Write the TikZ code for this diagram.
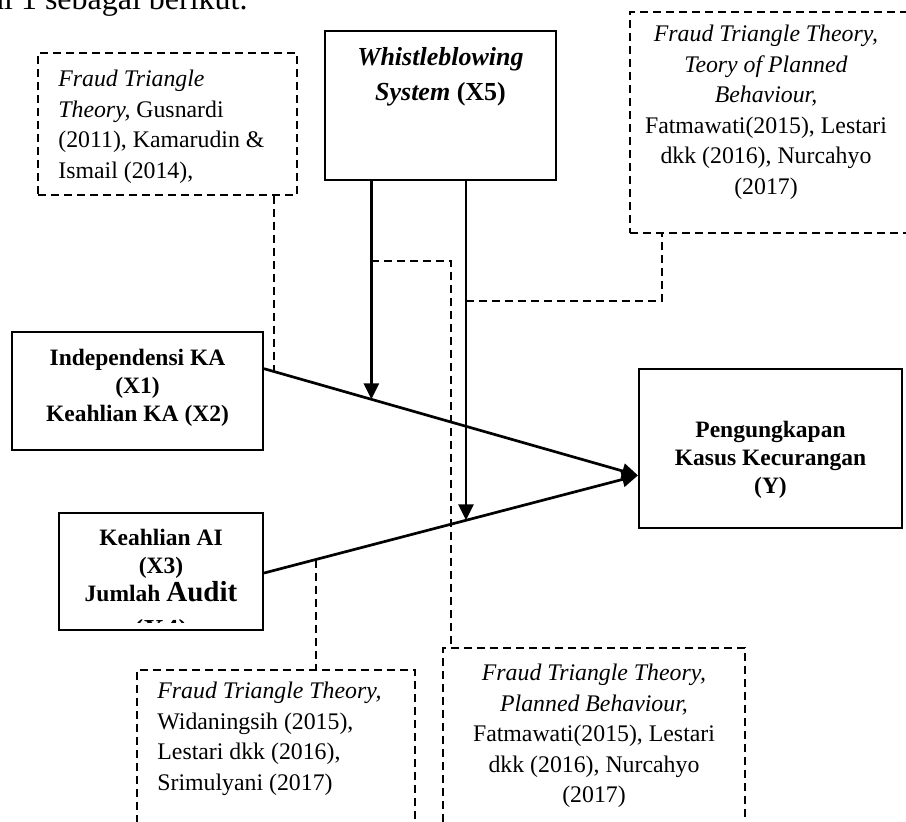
\documentclass[tikz,border=0pt]{standalone}
\usepackage{fontspec}
\setmainfont{Liberation Serif}
\usetikzlibrary{arrows.meta,calc}

\tikzset{
  varbox/.style={draw, line width=1pt, inner sep=0pt},
  refbox/.style={draw, line width=1pt, dash pattern=on 4pt off 2.5pt, inner sep=0pt},
  vartext/.style={inner sep=0pt, align=center, font=\fontsize{11.75}{14}\selectfont\bfseries},
  reftext/.style={inner sep=0pt, font=\fontsize{11.9}{15.25}\selectfont},
  flow/.style={line width=1.35pt, -{Triangle[length=8pt,width=7.5pt]}},
  refline/.style={line width=1pt, dash pattern=on 4pt off 2.5pt},
}

\begin{document}
\begin{tikzpicture}[x=0.5pt, y=-0.5pt]
    \useasboundingbox (0,0) rectangle (906,822);
    \clip (0,0) rectangle (906,822);

    % Texto del documento (cortado arriba)
    \node[anchor=base east, inner sep=0pt, font=\fontsize{16}{19}\selectfont] (caption) at (248,10) {al 1 sebagai berikut.};

    % Cajas de variables
    \node[varbox, minimum width=115.5pt, minimum height=74.5pt] (x5) at (440.5,105.5) {};
    \node[varbox, minimum width=125.5pt, minimum height=59pt] (x12) at (137.5,391) {};
    \node[varbox, minimum width=102pt, minimum height=58.5pt] (x34) at (161,571.5) {};
    \node[varbox, minimum width=131.5pt, minimum height=79.5pt] (y) at (770.5,448.5) {};

    \node[vartext, anchor=north, font=\fontsize{13}{17.5}\selectfont\bfseries] (x5t) at (440.5,47) {\textit{Whistleblowing}\\\textit{System} (X5)};
    \node[vartext, anchor=north] (x12t) at (137.5,349) {Independensi KA\\(X1)\\Keahlian KA (X2)};
    \node[vartext, anchor=north] (yt) at (770.5,421) {Pengungkapan\\Kasus Kecurangan\\(Y)};
    \begin{scope}
        \clip (x34.north west) rectangle ($(x34.south east)+(0,-8)$);
        \node[vartext, anchor=north] (x34t) at (161,529) {Keahlian AI\\(X3)\\Jumlah {\fontsize{14.5}{17}\selectfont Audit}\\[5pt]{\fontsize{14.5}{17}\selectfont (X4)}};
    \end{scope}

    % Cajas de referencias
    \node[refbox, minimum width=129.5pt, minimum height=71pt] (tl) at (167.5,124) {};
    \node[refbox, minimum width=141pt, minimum height=110.5pt] (tr) at (771,122.5) {};
    \node[refbox, minimum width=139pt, minimum height=85pt] (bl) at (276,755) {};
    \node[refbox, minimum width=151pt, minimum height=96pt] (br) at (594,744) {};

    \node[reftext, anchor=north west, align=left] (tlt) at (58,70) {\textit{Fraud Triangle}\\\textit{Theory,} Gusnardi\\(2011), Kamarudin \&\\Ismail (2014),};
    \node[reftext, anchor=north, align=center] (trt) at (766,25) {\textit{Fraud Triangle Theory,}\\\textit{Teory of Planned}\\\textit{Behaviour,}\\Fatmawati(2015), Lestari\\dkk (2016), Nurcahyo\\(2017)};
    \node[reftext, anchor=north west, align=left] (blt) at (157,682) {\textit{Fraud Triangle Theory,}\\Widaningsih (2015),\\Lestari dkk (2016),\\Srimulyani (2017)};
    \node[reftext, anchor=north, align=center] (brt) at (594,664) {\textit{Fraud Triangle Theory,}\\\textit{Planned Behaviour,}\\Fatmawati(2015), Lestari\\dkk (2016), Nurcahyo\\(2017)};

    % Pengaruh langsung
    \coordinate (a1s) at ($(x12.north east)!0.314!(x12.south east)$);
    \coordinate (a2s) at ($(x34.north east)!0.513!(x34.south east)$);
    \coordinate (yin) at ($(y.north west)!0.667!(y.south west)$);
    \draw[flow] (a1s) -- (yin);
    \draw[flow] (a2s) -- (yin);

    % Moderasi X5
    \coordinate (m1) at ($(a1s)!0.287!(yin)$);
    \coordinate (m2) at ($(a2s)!0.540!(yin)$);
    \draw[flow] (x5.south -| m1) -- (m1);
    \draw[flow] (x5.south -| m2) -- (m2);

    % Garis referensi
    \coordinate (m0) at ($(a1s)!0.027!(yin)$);
    \coordinate (m3) at ($(a2s)!0.138!(yin)$);
    \coordinate (k1) at ($(x5.south -| m1)!0.365!(m1)$);
    \coordinate (k2) at ($(x5.south -| m2)!0.353!(m2)$);
    \draw[refline] (tl.south -| m0) -- (m0);
    \draw[refline] (m3) -- (m3 |- bl.north);
    \draw[refline] (k1) -| ($(br.north west)!0.03!(br.north east)$);
    \draw[refline] (k2) -| ($(tr.south west)!0.117!(tr.south east)$);

\end{tikzpicture}
\end{document}
